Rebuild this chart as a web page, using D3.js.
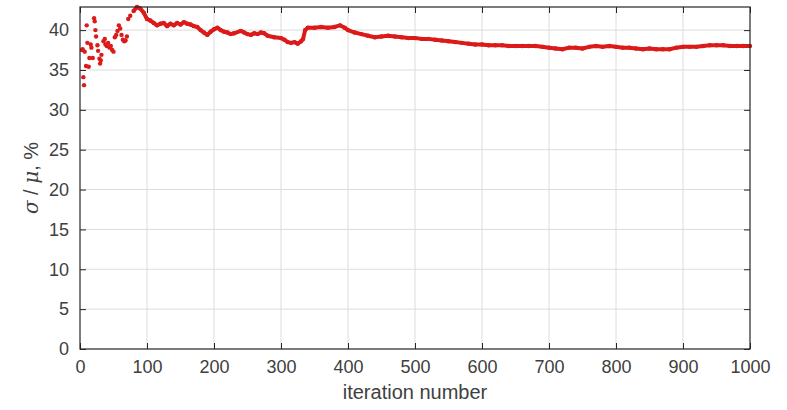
<!DOCTYPE html>
<html>
<head>
<meta charset="utf-8">
<script src="https://cdn.jsdelivr.net/npm/d3@7"></script>
<style>
  body { margin: 0; background: #fff; }
  svg { display: block; font-family: "Liberation Sans", Arial, sans-serif; }
</style>
</head>
<body>
<svg id="chart" width="787" height="410"></svg>
<script>
// early iterations: scattered estimates
const earlyIter = [3, 4, 5, 6, 7, 9, 10, 11, 13, 14, 16, 17, 19, 21, 22, 23, 24, 26, 27, 29, 30, 31, 32,
  35, 37, 38, 40, 42, 44, 46, 48, 50, 52, 54, 56, 58, 60, 62, 64, 66, 68, 70, 72, 75];
const earlyVal = [37.5, 37.6, 34.1, 33.1, 37.3, 35.5, 40.6, 38.4, 35.4, 36.5, 38.2, 37.8, 36.5, 41.5, 41.1, 40.0, 39.2, 38.1, 37.4, 36.4, 35.8, 36.2, 36.9,
  38.6, 38.9, 38.2, 38.0, 38.4, 37.8, 38.0, 37.5, 37.3, 39.1, 39.4, 39.9, 40.6, 40.2, 39.4, 38.8, 38.6, 38.7, 39.2, 41.4, 41.8];

// later iterations: settled trace
const lateIter = [80, 85, 90, 95, 100, 105, 110, 115, 120, 125, 130, 135, 140, 145, 150, 155, 160, 165, 170, 175,
  180, 185, 190, 195, 200, 205, 210, 215, 220, 225, 230, 240, 245, 250, 255, 260, 265, 270, 275, 280,
  290, 300, 305, 310, 315, 320, 325, 330, 333, 336, 340, 350, 360, 370, 380, 388, 395, 400, 410, 420,
  430, 440, 450, 460, 470, 480, 490, 500, 510, 520, 530, 540, 550, 560, 570, 580, 590, 600, 610, 620,
  630, 640, 650, 660, 670, 680, 690, 700, 710, 720, 730, 740, 750, 760, 770, 780, 790, 800, 810, 820,
  830, 840, 850, 860, 870, 880, 890, 900, 910, 920, 930, 940, 950, 960, 970, 980, 990, 1000];
const lateVal = [42.4, 42.9, 42.7, 42.2, 41.4, 41.2, 40.9, 40.6, 40.8, 40.9, 40.5, 40.8, 40.6, 40.9, 40.7, 41.0, 40.8, 40.7, 40.5, 40.4,
  40.0, 39.7, 39.4, 39.8, 40.1, 40.3, 40.0, 39.8, 39.7, 39.5, 39.6, 39.9, 39.7, 39.5, 39.4, 39.6, 39.5, 39.7, 39.6, 39.3,
  39.1, 39.0, 38.8, 38.5, 38.4, 38.5, 38.3, 38.6, 38.9, 40.0, 40.3, 40.3, 40.4, 40.3, 40.4, 40.6, 40.3, 40.0, 39.7, 39.5,
  39.3, 39.1, 39.2, 39.3, 39.2, 39.1, 39.0, 39.0, 38.9, 38.9, 38.8, 38.7, 38.6, 38.5, 38.4, 38.3, 38.2, 38.2, 38.1, 38.1,
  38.1, 38.0, 38.0, 38.0, 38.0, 38.0, 37.9, 37.8, 37.7, 37.6, 37.8, 37.8, 37.7, 37.9, 38.0, 37.9, 38.0, 37.9, 37.8, 37.8,
  37.7, 37.6, 37.7, 37.6, 37.6, 37.6, 37.8, 37.9, 37.9, 37.9, 38.0, 38.1, 38.1, 38.1, 38.0, 38.0, 38.0, 38.0];

const xTicks = d3.range(0, 1001, 100);
const yTicks = d3.range(0, 41, 5);

const margin = { top: 7, right: 37, bottom: 61, left: 80 };
const width = 787, height = 410;
const svg = d3.select("#chart");

const x = d3.scaleLinear().domain([0, 1000]).range([margin.left, width - margin.right]);
const y = d3.scaleLinear().domain([0, 42.9]).range([height - margin.bottom, margin.top]);

const axisColor = "#262626";
const red = "#dc1a1a";

// grid
svg.append("g").selectAll("line").data(xTicks.slice(1, -1)).join("line")
  .attr("x1", d => x(d)).attr("x2", d => x(d))
  .attr("y1", y(0)).attr("y2", y(42.9))
  .attr("stroke", "#dcdcdc").attr("stroke-width", 1);
svg.append("g").selectAll("line").data(yTicks.slice(1)).join("line")
  .attr("x1", x(0)).attr("x2", x(1000))
  .attr("y1", d => y(d)).attr("y2", d => y(d))
  .attr("stroke", "#dcdcdc").attr("stroke-width", 1);

// data
const late = lateIter.map((d, i) => [d, lateVal[i]]);
const early = earlyIter.map((d, i) => [d, earlyVal[i]]);

svg.append("path")
  .datum(late)
  .attr("fill", "none")
  .attr("stroke", red)
  .attr("stroke-width", 4)
  .attr("stroke-linejoin", "round")
  .attr("d", d3.line().x(d => x(d[0])).y(d => y(d[1])));

svg.append("g").selectAll("circle").data(early.concat(late)).join("circle")
  .attr("cx", d => x(d[0]))
  .attr("cy", d => y(d[1]))
  .attr("r", 2.2)
  .attr("fill", red);

// axes with ticks inside, box on
const tickLen = 6;
svg.append("g")
  .attr("transform", `translate(0,${y(0)})`)
  .call(d3.axisBottom(x).tickValues(xTicks).tickSize(-tickLen).tickPadding(11).tickFormat(d3.format("d")))
  .call(g => g.select(".domain").remove());
svg.append("g")
  .attr("transform", `translate(0,${y(42.9)})`)
  .call(d3.axisTop(x).tickValues(xTicks).tickSize(-tickLen).tickFormat(""))
  .call(g => g.select(".domain").remove());
svg.append("g")
  .attr("transform", `translate(${x(0)},0)`)
  .call(d3.axisLeft(y).tickValues(yTicks).tickSize(-tickLen).tickPadding(11))
  .call(g => g.select(".domain").remove());
svg.append("g")
  .attr("transform", `translate(${x(1000)},0)`)
  .call(d3.axisRight(y).tickValues(yTicks).tickSize(-tickLen).tickFormat(""))
  .call(g => g.select(".domain").remove());

svg.selectAll(".tick line").attr("stroke", axisColor);
svg.selectAll(".tick text")
  .attr("fill", "#404040")
  .style("font-size", "18px")
  .style("font-family", "'Liberation Sans', Arial, sans-serif");

svg.append("rect")
  .attr("x", x(0)).attr("y", y(42.9))
  .attr("width", x(1000) - x(0)).attr("height", y(0) - y(42.9))
  .attr("fill", "none").attr("stroke", axisColor).attr("stroke-width", 1.2);

// labels
svg.append("text")
  .attr("x", (x(0) + x(1000)) / 2)
  .attr("y", 399)
  .attr("text-anchor", "middle")
  .attr("fill", "#404040")
  .style("font-size", "20px")
  .text("iteration number");

const yl = svg.append("text")
  .attr("transform", `translate(38,${(y(0) + y(42.9)) / 2}) rotate(-90)`)
  .attr("text-anchor", "middle")
  .attr("fill", "#404040")
  .style("font-size", "20px");
yl.append("tspan").style("font-style", "italic").style("font-family", "'DejaVu Serif', serif").text("σ");
yl.append("tspan").text(" / ");
yl.append("tspan").style("font-style", "italic").style("font-family", "'DejaVu Serif', serif").text("μ");
yl.append("tspan").text(", %");
</script>
</body>
</html>
